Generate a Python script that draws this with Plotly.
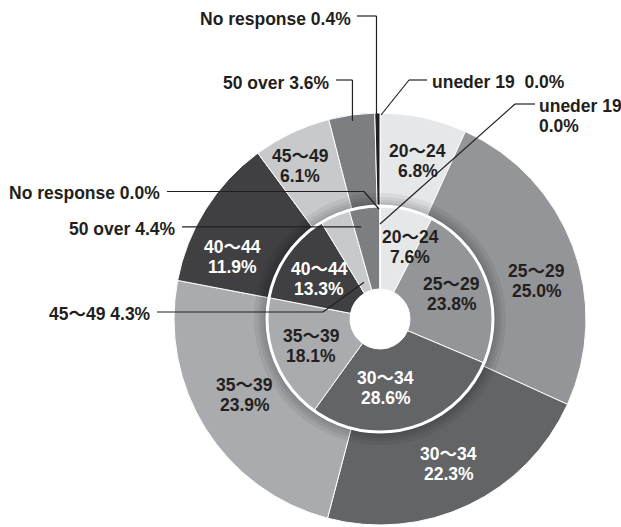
import math
import plotly.graph_objects as go

# Age distribution: outer ring and inner ring (percent)
categories = ["uneder 19", "20～24", "25～29", "30～34", "35～39",
              "40～44", "45～49", "50 over", "No response"]
outer_pct = [0.0, 6.8, 25.0, 22.3, 23.9, 11.9, 6.1, 3.6, 0.4]
inner_pct = [0.0, 7.6, 23.8, 28.6, 18.1, 13.3, 4.3, 4.4, 0.0]

colors = ["#231f20", "#e6e7e8", "#939598", "#636466", "#a9abae",
          "#404042", "#c8c9cb", "#7d7e81", "#231f20"]
label_color = {"30～34": "#ffffff", "40～44": "#ffffff"}

W, H = 621, 527
CX, CY = 380, 319          # centre of both rings (px)
R_OUT, R_MID, R_HOLE = 206, 113, 30
FONT = "Liberation Sans, Arial, Noto Sans CJK JP, sans-serif"
FSIZE = 17.5
DARK = "#231f20"


def domain(r):
    return dict(x=[(CX - r) / W, (CX + r) / W],
                y=[(H - CY - r) / H, (H - CY + r) / H])


def mid_angles(vals):
    total = sum(vals)
    out, cum = [], 0.0
    for v in vals:
        a0 = cum / total * 360
        cum += v
        a1 = cum / total * 360
        out.append((a0 + a1) / 2)
    return out


def polar(r, ang):
    a = math.radians(ang)
    return CX + r * math.sin(a), CY - r * math.cos(a)


def paper(x, y):
    return x / W, 1 - y / H


fig = go.Figure()

# outer ring
fig.add_trace(go.Pie(
    labels=categories, values=outer_pct, sort=False, direction="clockwise",
    rotation=0, hole=R_MID / R_OUT, domain=domain(R_OUT),
    marker=dict(colors=colors, line=dict(color="white", width=1)),
    textinfo="none", hoverinfo="label+value", showlegend=False,
))

# soft shadow around the inner ring
for r in (116, 119, 122, 126):
    fig.add_trace(go.Pie(
        values=[1], sort=False, hole=R_MID / r, domain=domain(r),
        marker=dict(colors=["rgba(0,0,0,0.06)"], line=dict(width=0)),
        textinfo="none", hoverinfo="skip", showlegend=False,
    ))

# inner ring
fig.add_trace(go.Pie(
    labels=categories, values=inner_pct, sort=False, direction="clockwise",
    rotation=0, hole=R_HOLE / R_MID, domain=domain(R_MID),
    marker=dict(colors=colors, line=dict(color="white", width=1)),
    textinfo="none", hoverinfo="label+value", showlegend=False,
))

annotations = []
shapes = []

# white rim of the inner ring
x0, y0 = paper(CX - R_MID, CY + R_MID)
x1, y1 = paper(CX + R_MID, CY - R_MID)
shapes.append(dict(type="circle", xref="paper", yref="paper",
                   x0=x0, y0=y0, x1=x1, y1=y1,
                   line=dict(color="white", width=3)))

# in-slice labels
nudge = {
    ("outer", "25～29"): (7, 18), ("outer", "35～39"): (0, -9),
    ("outer", "40～44"): (-12, 23), ("outer", "45～49"): (-11, -8),
    ("outer", "20～24"): (4, -2),
    ("inner", "20～24"): (13, 0), ("inner", "30～34"): (-14, -2),
    ("inner", "25～29"): (2, 0), ("inner", "40～44"): (0, 2),
}
inside = {"outer": (outer_pct, 160, categories[1:7]),
          "inner": (inner_pct, 74, categories[1:6])}
for ring, (vals, rad, cats) in inside.items():
    mids = mid_angles(vals)
    for cat in cats:
        i = categories.index(cat)
        x, y = polar(rad, mids[i])
        dx, dy = nudge.get((ring, cat), (0, 0))
        x, y = x + dx, y + dy
        col = label_color.get(cat, DARK)
        for line_txt, off in ((cat, -10), (f"{vals[i]:.1f}%", 10)):
            px_, py_ = paper(x, y + off)
            annotations.append(dict(
                x=px_, y=py_, xref="paper", yref="paper", text=f"<b>{line_txt}</b>",
                showarrow=False, xanchor="center", yanchor="middle",
                font=dict(family=FONT, size=FSIZE, color=col)))

# callout labels with leader lines
out_mid = mid_angles(outer_pct)
in_mid = mid_angles(inner_pct)


def leader(points):
    for (ax, ay), (bx, by) in zip(points[:-1], points[1:]):
        p0, p1 = paper(ax, ay), paper(bx, by)
        shapes.append(dict(type="line", xref="paper", yref="paper",
                           x0=p0[0], y0=p0[1], x1=p1[0], y1=p1[1],
                           line=dict(color=DARK, width=1.2)))


def callout(lines, x, y, anchor):
    n = len(lines)
    for k, t in enumerate(lines):
        px_, py_ = paper(x, y + (k - (n - 1) / 2) * 20)
        annotations.append(dict(
            x=px_, y=py_, xref="paper", yref="paper", text=f"<b>{t}</b>",
            showarrow=False, xanchor=anchor, yanchor="middle", align=anchor,
            font=dict(family=FONT, size=FSIZE, color=DARK)))


def pct(v):
    return f"{v:.1f}%"


# outer: No response
i = categories.index("No response")
ax, ay = polar(R_OUT - 6, out_mid[i])
leader([(357, 16), (ax - 1, 16), (ax - 1, ay)])
callout([f"No response {pct(outer_pct[i])}"], 353, 19, "right")

# outer: 50 over
i = categories.index("50 over")
ax, ay = polar(R_OUT - 6, out_mid[i])
leader([(336, 80), (ax, 80), (ax, ay)])
callout([f"50 over {pct(outer_pct[i])}"], 331, 83, "right")

# outer: uneder 19
i = categories.index("uneder 19")
ax, ay = polar(R_OUT - 2, out_mid[i])
leader([(427, 80), (409, 80), (ax + 1, ay)])
callout([f"uneder 19\u00a0\u00a0{pct(outer_pct[i])}"], 430, 82, "left")

# inner: uneder 19
i = categories.index("uneder 19")
ax, ay = polar(95, in_mid[i])
leader([(535, 104), (515, 104), (ax, ay)])
callout(["uneder 19", pct(inner_pct[i])], 537, 116, "left")

# inner: No response
i = categories.index("No response")
ax, ay = polar(110, 360)
leader([(167, 191.5), (364, 191.5), (ax - 1, ay)])
callout([f"No response {pct(inner_pct[i])}"], 162, 193, "right")

# inner: 50 over
i = categories.index("50 over")
ax, ay = polar(93, in_mid[i])
leader([(182, ay), (ax - 6, ay)])
callout([f"50 over {pct(inner_pct[i])}"], 177, ay + 2, "right")

# inner: 45～49
i = categories.index("45～49")
ax, ay = polar(40, in_mid[i])
leader([(157, 312), (323, 312), (ax, ay)])
callout([f"45～49 {pct(inner_pct[i])}"], 152.5, 314, "right")

fig.update_layout(
    width=W, height=H, margin=dict(l=0, r=0, t=0, b=0),
    paper_bgcolor="white", plot_bgcolor="white",
    annotations=annotations, shapes=shapes, showlegend=False,
)

fig.write_html("out.html")
